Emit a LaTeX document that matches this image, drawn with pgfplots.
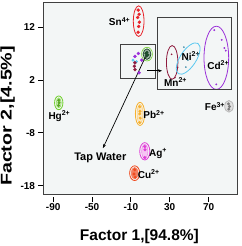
\documentclass[border=0pt]{standalone}
\usepackage{graphicx}
\usepackage{pgfplots}
\pgfplotsset{compat=1.18}
\usepackage{fontspec}
\setmainfont{Liberation Sans}
\usetikzlibrary{shapes.geometric,arrows.meta}
\definecolor{snred}{HTML}{E8232A}
\definecolor{hggreen}{HTML}{6FD02C}
\definecolor{pborange}{HTML}{F7B12E}
\definecolor{agmag}{HTML}{E03FD8}
\definecolor{cured}{HTML}{F04A1E}
\definecolor{fegray}{HTML}{9A9A9A}
\definecolor{cdpurple}{HTML}{9B30D9}
\definecolor{niblue}{HTML}{5BC8F0}
\definecolor{mnmaroon}{HTML}{8E1B3E}
\definecolor{tapgreen}{HTML}{1E4D2B}
\definecolor{bgcol}{HTML}{F3F6F6}
\definecolor{framecol}{HTML}{404040}
\begin{document}
\begin{tikzpicture}
\useasboundingbox (-43.5pt,-52pt) rectangle (197.5pt,194pt);
\begin{axis}[
  scale only axis, width=194.2pt, height=191.3pt,
  xmin=-100, xmax=100, ymin=-19.6, ymax=16.7,
  xtick={-90,-50,-10,30,70}, ytick={-18,-8,2,12},
  tick align=outside, xtick pos=bottom, ytick pos=left,
  axis background/.style={fill=bgcol},
  axis line style={draw=framecol, line width=0.8pt},
  major tick length=5pt,
  every tick/.style={black, line width=0.8pt},
  every x tick/.append style={yshift=-2.5pt},
  /pgf/number format/assume math mode=true,
  tick label style={font=\fontsize{10}{12}\selectfont\bfseries},
  xticklabel style={yshift=-1pt},
  xlabel={Factor 1,[94.8\%]}, ylabel={\scalebox{1.27}[1]{Factor 2,[4.5\%]}},
  label style={font=\fontsize{15.5}{18}\selectfont\bfseries},
  xlabel style={at={(axis description cs:0.494,-0.22)}, anchor=center},
  ylabel style={at={(axis description cs:-0.185,0.408)}, anchor=center},
  clip=false,
]
% ellipses (axis units radii)
\draw[snred, line width=0.8pt] (axis cs:-2,13.2) ellipse [x radius=5.5, y radius=2.9];
\draw[hggreen, line width=0.8pt] (axis cs:-84.3,-2.3) ellipse [x radius=4.3, y radius=1.3];
\draw[hggreen!70!white, fill=hggreen!35!white, line width=0.6pt] (axis cs:-84.3,-2.3) ellipse [x radius=2.6, y radius=0.95];
\draw[pborange, line width=0.8pt] (axis cs:-0.6,-4.4) ellipse [x radius=4.8, y radius=2.2];
\draw[pborange!60!white, fill=pborange!30!white, line width=0.6pt] (axis cs:-0.6,-4.4) ellipse [x radius=3.0, y radius=1.8];
\draw[agmag, line width=0.8pt] (axis cs:4.3,-11.5) ellipse [x radius=5.2, y radius=1.65];
\draw[agmag!60!white, fill=agmag!30!white, line width=0.6pt] (axis cs:4.3,-11.5) ellipse [x radius=3.2, y radius=1.3];
\draw[cured, line width=0.8pt] (axis cs:-6.1,-15.65) ellipse [x radius=5.2, y radius=1.4];
\draw[cured!70!white, fill=cured!70!white, line width=0.6pt] (axis cs:-6.1,-15.65) ellipse [x radius=3.4, y radius=1.1];
\draw[fegray!70!white, fill=fegray!30!white, line width=0.8pt] (axis cs:91,-2.96) ellipse [x radius=4.4, y radius=1.1];
\draw[hggreen, line width=0.6pt] (axis cs:6.6,6.94) ellipse [x radius=5.6, y radius=1.3];
\draw[tapgreen, fill=tapgreen!40!white, line width=0.8pt] (axis cs:6.6,6.94) ellipse [x radius=4.0, y radius=1.0];
\draw[mnmaroon, line width=0.8pt] (axis cs:32.5,5.37) ellipse [x radius=5.9, y radius=3.2];
\draw[cdpurple, line width=0.8pt] (axis cs:78,6.24) ellipse [x radius=12.7, y radius=6.0];
\node[draw=niblue, line width=0.8pt, ellipse, rotate=57, minimum width=36pt, minimum height=16pt, inner sep=0pt] at (axis cs:49,6.1) {};
% boxes
\draw[framecol, line width=0.8pt] (axis cs:-21.3,2.27) rectangle (axis cs:14.9,8.78);
\draw[framecol, line width=0.8pt] (axis cs:17.7,0.26) rectangle (axis cs:93.5,13.9);
\draw[-{Stealth[length=4pt]}, black, line width=0.8pt] (axis cs:7.0,3.78) -- (axis cs:22.1,3.78);
\draw[-{Stealth[length=4pt]}, black, line width=0.7pt] (axis cs:5.0,6.43) -- (axis cs:-38.8,-10.9);
% points
\addplot[only marks, mark=*, mark size=1.5pt, snred] coordinates {(-2.5,15.3)(-1.5,14.5)(-3.0,13.9)(-1.2,13.0)(-2.0,12.2)(-2.5,11.1)};
\addplot[only marks, mark=*, mark size=1.3pt, hggreen!80!black] coordinates {(-84.3,-1.8)(-84.0,-2.3)(-84.5,-2.8)};
\addplot[only marks, mark=*, mark size=1.3pt, pborange] coordinates {(-0.9,-3.05)(-0.6,-3.9)(-0.9,-4.4)(-0.4,-5.2)(-0.9,-6.05)};
\addplot[only marks, mark=*, mark size=1.4pt, agmag] coordinates {(4.3,-10.6)(4.5,-11.2)(4.3,-12.7)};
\addplot[only marks, mark=*, mark size=1.3pt, cured] coordinates {(-6.1,-15.0)(-6.8,-15.8)(-5.5,-16.4)};
\addplot[only marks, mark=*, mark size=1.3pt, fegray!80!black] coordinates {(90.5,-2.5)(91.5,-3.0)(90.8,-3.5)};
\addplot[only marks, mark=*, mark size=1.4pt, tapgreen] coordinates {(5.5,7.1)(7.5,6.8)(6.6,7.3)(6.0,6.6)};
\addplot[only marks, mark=*, mark size=1.5pt, cdpurple] coordinates {(-2.3,7.07)(1.2,5.8)(-1.6,3.4)(-5.8,6.5)};
\addplot[only marks, mark=*, mark size=1.3pt, niblue] coordinates {(-7.8,5.8)(-4.3,5.5)};
\addplot[only marks, mark=*, mark size=1.5pt, mnmaroon] coordinates {(-5.8,5.3)(-6.4,4.65)(-5.8,4.0)};
\addplot[only marks, mark=*, mark size=0.6pt, mnmaroon] coordinates {(31.9,6.9)(38.1,4.37)(35.3,2.47)};
\addplot[only marks, mark=*, mark size=0.6pt, niblue!70!black] coordinates {(44.6,8.27)(59.0,6.94)(46.6,4.48)(48.7,5.8)};
\addplot[only marks, mark=*, mark size=0.7pt, cdpurple] coordinates {(75.9,11.5)(83.5,9.65)(86.2,8.1)(78,1.2)(87.7,7.6)};
% labels
\begin{scope}[every node/.style={font=\fontsize{10}{12}\selectfont\bfseries, inner sep=0pt}]
\node at (axis cs:-21.6,13.1) {Sn\textsuperscript{4+}};
\node at (axis cs:-83.6,-4.8) {Hg\textsuperscript{2+}};
\node at (axis cs:13.9,-4.5) {Pb\textsuperscript{2+}};
\node at (axis cs:18,-11.9) {Ag\textsuperscript{+}};
\node at (axis cs:8.4,-15.8) {Cu\textsuperscript{2+}};
\node at (axis cs:76.6,-3.0) {Fe\textsuperscript{3+}};
\node at (axis cs:51.8,6.62) {Ni\textsuperscript{2+}};
\node at (axis cs:80,4.86) {Cd\textsuperscript{2+}};
\node at (axis cs:36,1.6) {Mn\textsuperscript{2+}};
\node[font=\fontsize{11}{13}\selectfont\bfseries] at (axis cs:-41.5,-12.75) {Tap Water};
\end{scope}
\end{axis}
\end{tikzpicture}
\end{document}
